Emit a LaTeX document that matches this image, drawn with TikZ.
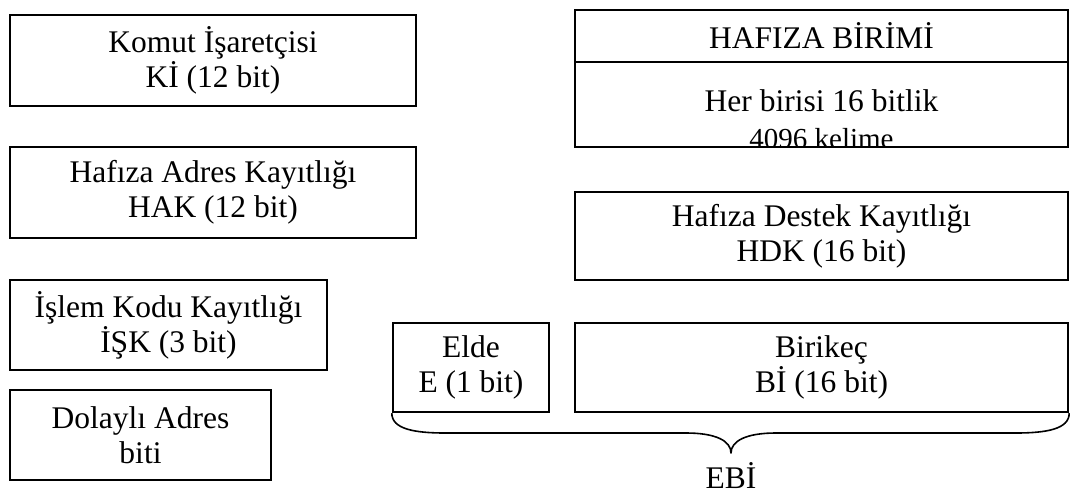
\documentclass[tikz,border=0pt]{standalone}
\usepackage{fontspec}
\setmainfont{Liberation Serif}
\tikzset{
  regbox/.style={draw, line width=2.4pt, inner sep=0pt, align=center,
    font=\fontsize{31.5}{35}\selectfont, text=black},
  plaintxt/.style={inner sep=0pt, font=\fontsize{31.5}{35}\selectfont, text=black},
  smalltxt/.style={inner sep=0pt, font=\fontsize{29}{33}\selectfont, text=black},
  bracepath/.style={draw, line width=1.6pt, line join=round}
}
\begin{document}
\begin{tikzpicture}[x=1pt,y=-1pt]
\useasboundingbox (0,0) rectangle (1070,494);
% left column
\node[regbox, minimum width=406pt, minimum height=91pt] (ki) at (213,60.5) {Komut İşaretçisi\\Kİ (12 bit)};
\node[regbox, minimum width=406pt, minimum height=91pt] (hak) at (213,192.5) {Hafıza Adres Kayıtlığı\\HAK (12 bit)};
\node[regbox, minimum width=317pt, minimum height=90pt] (isk) at (168.5,325) {İşlem Kodu Kayıtlığı\\İŞK (3 bit)};
\node[regbox, minimum width=261pt, minimum height=90pt] (dab) at (140.5,435) {Dolaylı Adres\\biti};
% memory unit
\node[regbox, minimum width=493pt, minimum height=52pt] (hb1) at (821.5,36) {HAFIZA BİRİMİ};
\node[regbox, minimum width=493pt, minimum height=85pt] (hb2) at (821.5,104.5) {};
\begin{scope}
  \clip (hb2.north west) rectangle (821.5+246.5,146.5);
  \node[plaintxt, anchor=base] (hbt1) at (821.5,112) {Her birisi 16 bitlik};
  \node[smalltxt, anchor=base] (hbt2) at (821.5,148.5) {4096 kelime};
\end{scope}
\node[regbox, minimum width=493pt, minimum height=88pt] (hdk) at (821.5,236) {Hafıza Destek Kayıtlığı\\HDK (16 bit)};
% accumulator
\node[regbox, minimum width=156pt, minimum height=89pt] (e) at (471,367.5) {Elde\\E (1 bit)};
\node[regbox, minimum width=493pt, minimum height=89pt] (bi) at (821.5,367.5) {Birikeç\\Bİ (16 bit)};
% brace
\coordinate (tip) at (731,453);
\draw[bracepath] (e.south west) .. controls +(0,16) and +(-30,0) .. (445,433)
  -- (686,433) .. controls +(30,0) and +(0,-12) .. (tip)
  .. controls +(0,-12) and +(-30,0) .. (776,433)
  -- (1016,433) .. controls +(30,0) and +(0,16) .. (bi.south east);
\node[plaintxt, anchor=base] (ebi) at (731,488) {EBİ};
\end{tikzpicture}
\end{document}
